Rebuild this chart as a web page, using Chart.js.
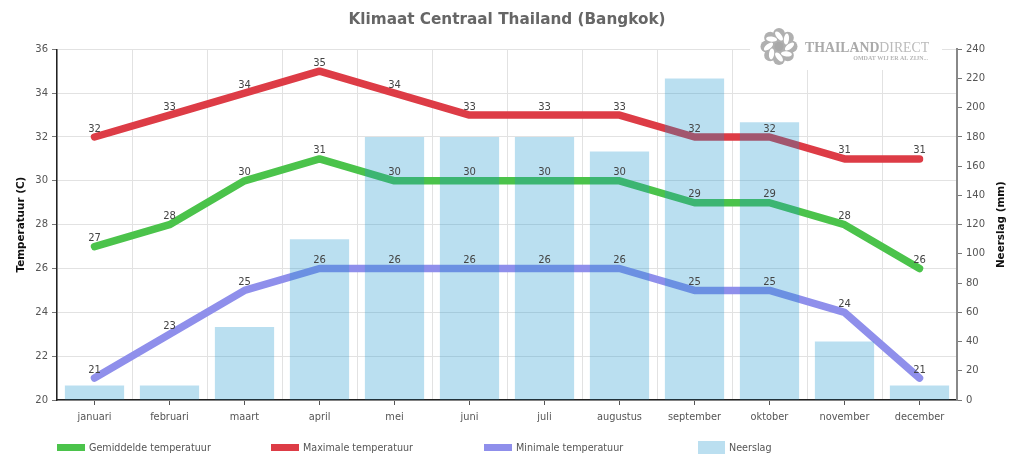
<!DOCTYPE html>
<html>
<head>
<meta charset="utf-8">
<style>
  html, body { margin: 0; padding: 0; background: #fff; overflow: hidden; }
  canvas { display: block; }
</style>
<script src="https://cdn.jsdelivr.net/npm/chart.js@4"></script>
</head>
<body>
<canvas id="climateChart" width="1024" height="475"></canvas>
<script>
const months = ['januari', 'februari', 'maart', 'april', 'mei', 'juni', 'juli', 'augustus', 'september', 'oktober', 'november', 'december'];
const avgTemp = [27, 28, 30, 31, 30, 30, 30, 30, 29, 29, 28, 26];
const maxTemp = [32, 33, 34, 35, 34, 33, 33, 33, 32, 32, 31, 31];
const minTemp = [21, 23, 25, 26, 26, 26, 26, 26, 25, 25, 24, 21];
const rainfall = [10, 10, 50, 110, 180, 180, 180, 170, 220, 190, 40, 10];

const FONT = '"DejaVu Sans", sans-serif';
const TEXT_COLOR = '#555555';

function lineDataset(label, data, color, order) {
  return {
    type: 'line',
    label,
    data,
    yAxisID: 'y',
    borderColor: color,
    backgroundColor: color,
    borderWidth: 7.5,
    borderCapStyle: 'round',
    borderJoinStyle: 'round',
    pointRadius: 0,
    tension: 0,
    order,
  };
}

const valueLabels = {
  id: 'valueLabels',
  afterDatasetsDraw(chart) {
    const ctx = chart.ctx;
    ctx.save();
    ctx.font = '10px ' + FONT;
    ctx.fillStyle = '#444444';
    ctx.textAlign = 'center';
    ctx.textBaseline = 'middle';
    chart.data.datasets.forEach((dataset, i) => {
      if (dataset.type !== 'line') {
        return;
      }
      chart.getDatasetMeta(i).data.forEach((point, j) => {
        ctx.fillText(dataset.data[j], point.x, point.y - 8);
      });
    });
    ctx.restore();
  },
};

const legendRow = {
  id: 'legendRow',
  afterDraw(chart) {
    const ctx = chart.ctx;
    const starts = [57, 271, 484, 698];
    ctx.save();
    ctx.font = '9.6px ' + FONT;
    ctx.textBaseline = 'middle';
    ctx.textAlign = 'left';
    chart.data.datasets.forEach((dataset, i) => {
      const x = starts[i];
      ctx.fillStyle = dataset.type === 'line' ? dataset.borderColor : '#bbdff0';
      if (dataset.type === 'line') {
        ctx.fillRect(x, 444, 28, 7);
      } else {
        ctx.fillRect(x, 441, 27, 13);
      }
      ctx.fillStyle = TEXT_COLOR;
      ctx.fillText(dataset.label, x + (dataset.type === 'line' ? 32 : 31), 448);
    });
    ctx.restore();
  },
};

// Chart.js always turns a right axis title clockwise, the reference reads bottom to top
const rightAxisTitle = {
  id: 'rightAxisTitle',
  afterDraw(chart) {
    const ctx = chart.ctx;
    const area = chart.chartArea;
    ctx.save();
    ctx.translate(1001, (area.top + area.bottom) / 2);
    ctx.rotate(-Math.PI / 2);
    ctx.font = 'bold 10.4px ' + FONT;
    ctx.fillStyle = '#111111';
    ctx.textAlign = 'center';
    ctx.textBaseline = 'middle';
    ctx.fillText('Neerslag (mm)', 0, 0);
    ctx.restore();
  },
};

const watermark = {
  id: 'watermark',
  afterDraw(chart) {
    const ctx = chart.ctx;
    ctx.save();
    ctx.fillStyle = '#ffffff';
    ctx.fillRect(750, 24, 192, 46);

    // pinwheel logo
    ctx.save();
    ctx.translate(779, 46.5);
    ctx.fillStyle = '#b0b0b0';
    for (let i = 0; i < 8; i += 1) {
      ctx.save();
      ctx.rotate((i * Math.PI) / 4);
      ctx.beginPath();
      ctx.arc(0, -12.5, 6, 0, Math.PI * 2);
      ctx.fill();
      ctx.restore();
    }
    ctx.beginPath();
    ctx.arc(0, 0, 10, 0, Math.PI * 2);
    ctx.fill();
    ctx.fillStyle = '#ffffff';
    for (let i = 0; i < 8; i += 1) {
      ctx.save();
      ctx.rotate((i * Math.PI) / 4);
      ctx.beginPath();
      ctx.ellipse(0, -10.5, 5.5, 2.6, 0.9, 0, Math.PI * 2);
      ctx.fill();
      ctx.restore();
    }
    ctx.fillStyle = '#a8a8a8';
    ctx.beginPath();
    ctx.arc(0, 0, 4.5, 0, Math.PI * 2);
    ctx.fill();
    ctx.restore();

    ctx.textBaseline = 'alphabetic';
    ctx.textAlign = 'left';
    ctx.font = 'bold 13.8px "Liberation Serif", serif';
    ctx.fillStyle = '#aaaaaa';
    ctx.fillText('THAILAND', 805, 52);
    const wordWidth = ctx.measureText('THAILAND').width;
    ctx.font = '13.8px "Liberation Serif", serif';
    ctx.fillStyle = '#bbbbbb';
    ctx.fillText('DIRECT', 805 + wordWidth, 52);
    ctx.font = 'bold 6px "Liberation Serif", serif';
    ctx.textAlign = 'right';
    ctx.fillStyle = '#b5b5b5';
    ctx.fillText('OMDAT WIJ ER AL ZIJN...', 928, 60);
    ctx.restore();
  },
};

new Chart(document.getElementById('climateChart'), {
  type: 'bar',
  data: {
    labels: months,
    datasets: [
      lineDataset('Gemiddelde temperatuur', avgTemp, 'rgb(75, 195, 75)', 1),
      lineDataset('Maximale temperatuur', maxTemp, 'rgb(221, 60, 70)', 2),
      lineDataset('Minimale temperatuur', minTemp, 'rgb(143, 143, 235)', 3),
      {
        type: 'bar',
        label: 'Neerslag',
        data: rainfall,
        yAxisID: 'y1',
        xAxisID: 'x',
        backgroundColor: 'rgba(28, 148, 205, 0.3)',
        barPercentage: 0.79,
        categoryPercentage: 1,
        order: 0,
      },
    ],
  },
  options: {
    responsive: false,
    animation: false,
    layout: { padding: 0 },
    plugins: {
      legend: { display: false },
      tooltip: { enabled: false },
      title: {
        display: true,
        fullSize: false,
        text: 'Klimaat Centraal Thailand (Bangkok)',
        color: '#666666',
        font: { family: FONT, size: 15.25, weight: 'bold' },
        padding: { top: 11, bottom: 20 },
      },
    },
    scales: {
      x: {
        type: 'category',
        offset: true,
        position: 'bottom',
        grid: { offset: false, drawOnChartArea: false, tickLength: 5, tickColor: '#555555' },
        border: { color: '#222222', width: 1.5 },
        ticks: { color: TEXT_COLOR, font: { family: FONT, size: 9.8 }, padding: 7, maxRotation: 0, autoSkip: false },
        afterFit(scale) { scale.height = 75; },
      },
      x2: {
        type: 'category',
        labels: months,
        offset: true,
        position: 'bottom',
        grid: { offset: true, drawTicks: false, color: '#e2e2e2' },
        border: { display: false },
        ticks: { display: false },
        afterFit(scale) { scale.height = 0; },
      },
      y: {
        position: 'left',
        min: 20,
        max: 36,
        ticks: { stepSize: 2, color: TEXT_COLOR, font: { family: FONT, size: 10 }, padding: 4 },
        grid: { color: '#e2e2e2', tickColor: '#777777', tickLength: 5 },
        border: { color: '#222222', width: 1.5 },
        title: {
          display: true,
          text: 'Temperatuur (C)',
          color: '#111111',
          font: { family: FONT, size: 10.4, weight: 'bold' },
          padding: { top: 15, bottom: 0 },
        },
        afterFit(scale) { scale.width = 57; },
      },
      y1: {
        position: 'right',
        min: 0,
        max: 240,
        ticks: { stepSize: 20, color: TEXT_COLOR, font: { family: FONT, size: 10 }, padding: 4 },
        grid: { drawOnChartArea: false, tickColor: '#777777', tickLength: 5 },
        border: { color: '#888888', width: 2 },
        afterFit(scale) { scale.width = 67; },
      },
    },
  },
  plugins: [valueLabels, legendRow, rightAxisTitle, watermark],
});
</script>
</body>
</html>
